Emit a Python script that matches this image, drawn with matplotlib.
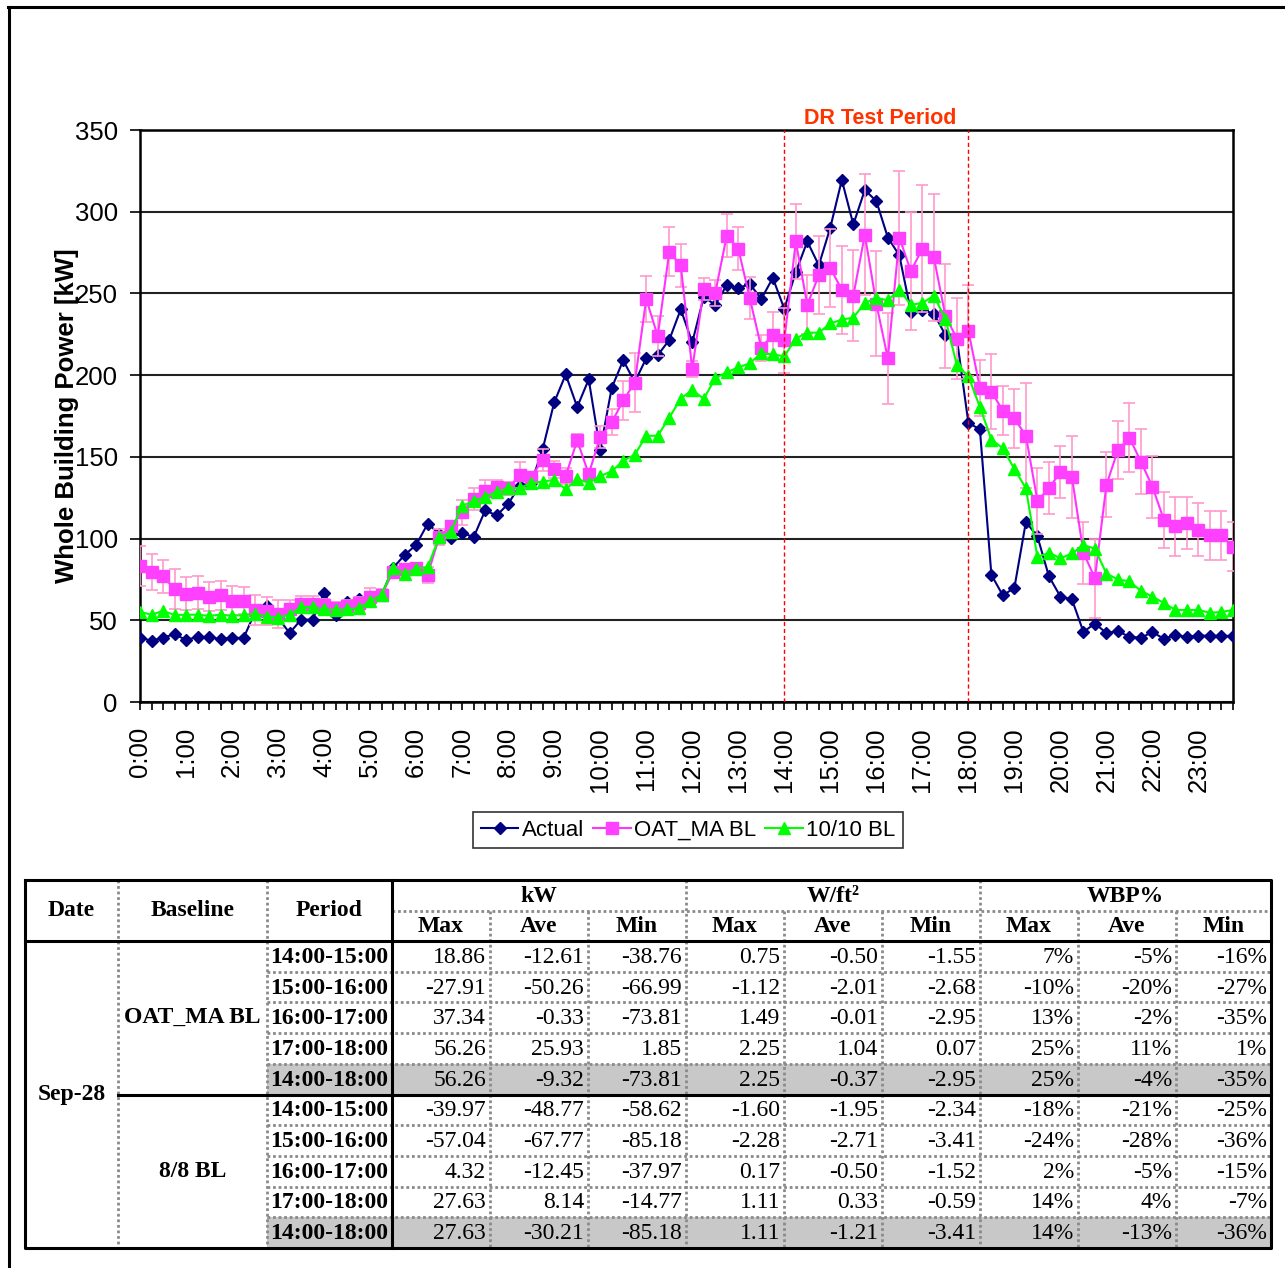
import numpy as np
import matplotlib.pyplot as plt

plt.rcParams['font.family'] = ['Liberation Sans', 'DejaVu Sans']

# whole building power, 15-minute readings from 0:00 to 23:45 [kW]
actual = [39.4, 37.5, 39.4, 41.5, 38.0, 39.8, 39.8, 38.4, 39.4, 39.1,
          55.0, 59.0, 51.6, 42.2, 50.4, 50.4, 66.8, 53.2, 61.4, 63.3,
          64.5, 65.6, 82.0, 90.0,
          96.1, 109.0, 103.1, 100.3, 103.6, 100.8, 117.2, 114.2, 121.2, 132.4,
          134.0, 154.7, 183.3, 200.4, 180.5, 197.4, 154.2, 192.2, 209.1, 195.7,
          210.3, 212.2, 221.5, 240.3,
          220.0, 247.8, 243.0, 255.1, 253.2, 255.8, 246.6, 259.5, 240.6, 263.1,
          281.8, 267.2, 290.3, 319.4, 292.2, 313.3, 306.5, 284.2, 273.3, 238.9,
          239.8, 237.7, 224.6, 222.4, 170.7,
          166.9, 77.8, 65.2, 69.9, 110.2, 101.3, 76.9, 64.5, 62.8, 42.9,
          48.0, 42.2, 43.4, 39.8, 39.4, 42.7, 38.7, 41.0, 39.8, 40.6,
          40.6, 40.3, 40.6]

oat_ma = [83.2, 79.7, 76.9, 69.2, 66.3, 66.8, 64.5, 65.2, 62.1, 62.1,
          56.3, 55.6, 53.9, 56.7, 59.8, 59.8, 59.1, 57.4, 58.6, 60.5,
          64.5, 65.6, 79.7, 81.6,
          82.0, 77.8, 100.8, 107.4, 116.0, 124.2, 128.9, 131.7, 130.8, 138.8,
          137.8, 148.1, 142.3, 138.3, 160.1, 139.5, 162.2, 171.1, 184.5, 195.3,
          246.6, 223.9, 275.4, 267.2,
          203.7, 252.7, 250.3, 285.4, 277.4, 247.1, 216.8, 224.8, 221.2, 281.8,
          243.0, 261.2, 265.5, 252.2, 248.6, 285.9, 243.7, 210.2, 284.2, 263.6,
          277.4, 272.1, 236.2, 222.4, 227.2,
          192.2, 189.9, 178.2, 173.5, 162.9, 123.1, 130.8, 140.6, 137.6, 91.4,
          75.7, 132.9, 154.2, 161.7, 147.0, 131.7, 111.3, 107.4, 109.7, 105.5,
          102.0, 102.0, 94.9]

oat_ma_err = [12, 11, 10, 12, 10, 10, 9, 9, 9, 8.5,
              9, 8.5, 8.5, 6, 5, 5, 4, 4, 4, 4,
              5, 3.5, 2, 2,
              2, 5, 5, 3, 7.4, 6.5, 6.7, 4, 4, 8,
              3, 7, 5, 5, 4, 3, 6.5, 8, 12, 18,
              14, 12, 15, 13,
              5, 7, 8, 13, 13, 13, 8, 14, 20, 23,
              18, 24, 24, 27, 28, 37, 32, 28, 41, 36,
              39, 39, 32, 25, 28,
              17, 23, 15, 18, 32, 20, 16, 16, 25, 19,
              24, 20, 18, 21, 20, 19, 17, 18, 16, 16,
              15, 15, 15]

bl_1010 = [55.1, 53.4, 55.8, 53.2, 53.4, 53.4, 52.7, 53.4, 52.7, 53.2,
           53.9, 52.3, 51.6, 53.4, 58.1, 58.1, 56.7, 56.3, 56.7, 57.4,
           61.6, 65.6, 82.0, 78.5,
           81.6, 82.5, 100.8, 103.8, 120.0, 123.0, 125.4, 128.5, 130.8, 130.8,
           134.1, 134.8, 136.0, 130.1, 136.4, 134.1, 138.3, 141.1, 147.7, 151.2,
           162.9, 162.9, 173.9, 185.7,
           190.9, 185.5, 198.1, 201.8, 204.7, 207.3, 213.4, 212.7, 211.5, 222.4,
           226.0, 226.0, 231.6, 234.0, 235.2, 244.2, 247.1, 245.9, 252.2, 243.0,
           244.2, 248.6, 234.5, 206.1, 199.3,
           180.5, 160.6, 155.2, 142.5, 130.8, 88.6, 91.4, 87.9, 90.9, 96.1,
           93.8, 78.5, 75.0, 73.8, 68.0, 64.5, 60.5, 56.3, 56.3, 56.3,
           54.6, 55.1, 56.3]

hour_labels = ['%d:00' % h for h in range(24)]
dr_start, dr_end = 14, 18  # hours

# summary table
periods = ['14:00-15:00', '15:00-16:00', '16:00-17:00', '17:00-18:00', '14:00-18:00']
groups = ['kW', 'W/ft\u00b2', 'WBP%']
stats = ['Max', 'Ave', 'Min']
oat_ma_rows = [
    ['18.86', '-12.61', '-38.76', '0.75', '-0.50', '-1.55', '7%', '-5%', '-16%'],
    ['-27.91', '-50.26', '-66.99', '-1.12', '-2.01', '-2.68', '-10%', '-20%', '-27%'],
    ['37.34', '-0.33', '-73.81', '1.49', '-0.01', '-2.95', '13%', '-2%', '-35%'],
    ['56.26', '25.93', '1.85', '2.25', '1.04', '0.07', '25%', '11%', '1%'],
    ['56.26', '-9.32', '-73.81', '2.25', '-0.37', '-2.95', '25%', '-4%', '-35%'],
]
bl88_rows = [
    ['-39.97', '-48.77', '-58.62', '-1.60', '-1.95', '-2.34', '-18%', '-21%', '-25%'],
    ['-57.04', '-67.77', '-85.18', '-2.28', '-2.71', '-3.41', '-24%', '-28%', '-36%'],
    ['4.32', '-12.45', '-37.97', '0.17', '-0.50', '-1.52', '2%', '-5%', '-15%'],
    ['27.63', '8.14', '-14.77', '1.11', '0.33', '-0.59', '14%', '4%', '-7%'],
    ['27.63', '-30.21', '-85.18', '1.11', '-1.21', '-3.41', '14%', '-13%', '-36%'],
]

W, H = 1285, 1268
fig = plt.figure(figsize=(W / 100, H / 100), dpi=100)

# page layer in pixel units (frame + table)
page = fig.add_axes([0, 0, 1, 1])
page.set_xlim(0, W)
page.set_ylim(H, 0)
page.axis('off')
page.plot([8, W], [7, 7], color='black', lw=2.2)
page.plot([8.5, 8.5], [7, H], color='black', lw=2.2)

# ---- chart ----
L, R, T, B = 140, 1233, 130, 702
ax = fig.add_axes([L / W, 1 - B / H, (R - L) / W, (B - T) / H])
x = np.arange(len(actual))

ax.plot(x, actual, color='#000080', marker='D', ms=6, lw=1.5, label='Actual', zorder=3)
ax.errorbar(x, oat_ma, yerr=oat_ma_err, fmt='none', ecolor='#FF99CC',
            elinewidth=1.2, capsize=4, capthick=1.2, zorder=3.5)
ax.plot(x, oat_ma, color='#FF33FF', marker='s', ms=8, mfc='#FF40FF', mec='#FF40FF',
        lw=1.5, label='OAT_MA BL', zorder=4)
ax.plot(x, bl_1010, color='#00FF00', marker='^', ms=8.5, lw=1.5, label='10/10 BL', zorder=5)

for h in (dr_start, dr_end):
    ax.axvline(h * 4, color='#FF0000', ls=(0, (3, 2)), lw=1, zorder=6)
ax.annotate('DR Test Period', xy=((dr_start + dr_end) * 2, 1), xycoords=('data', 'axes fraction'),
            xytext=(3, 1), textcoords='offset points', ha='center', va='bottom',
            color='#FF3300', fontsize=15.5, fontweight='bold')

ax.set_xlim(0, len(actual) - 1)
ax.set_ylim(0, 350)
ax.set_yticks(range(0, 351, 50))
ax.yaxis.grid(True, color='#222222', lw=1.5)
ax.set_axisbelow(True)
ax.set_xticks(x)
ax.set_xticklabels([hour_labels[i // 4] if i % 4 == 0 else '' for i in x], rotation=90)
ax.tick_params(axis='x', length=6, width=1.2, pad=12, labelsize=18.5, direction='out')
ax.tick_params(axis='y', length=7, width=1.2, pad=9, labelsize=18.5)
for s in ax.spines.values():
    s.set_linewidth(1.8)
    s.set_color('black')
ax.set_ylabel('Whole Building Power [kW]', fontsize=18.5, fontweight='bold', labelpad=-3)

leg = fig.legend(loc='center', bbox_to_anchor=(688 / W, 1 - 830 / H), ncol=3, fontsize=16,
                 frameon=True, fancybox=False, edgecolor='black', borderpad=0.35,
                 handlelength=1.7, handletextpad=0.15, columnspacing=0.4, borderaxespad=0)
leg.get_frame().set_linewidth(1.2)

# ---- table ----
cols = [25, 118, 267, 392, 490, 588, 686, 784, 882, 980, 1078, 1176, 1271]
top, hmid, hbot, bot = 880, 910.5, 941, 1248
row_h = (bot - hbot) / 10
rows = [hbot + k * row_h for k in range(11)]
serif = ['Liberation Serif', 'DejaVu Serif']
fs = 17
dot = dict(color='#8a8a8a', lw=2, ls=(0, (1, 1)), zorder=2)
thick = dict(color='black', lw=2.2, zorder=3)

for k in (4, 9):
    page.fill_between([cols[2], cols[-1]], rows[k], rows[k + 1], color='#C8C8C8', lw=0, zorder=1)

# inner dotted lines
for c in cols[1:3]:
    page.plot([c, c], [top, bot], **dot)
for c in cols[4:-1]:
    y0 = top if c in (cols[6], cols[9]) else hmid
    page.plot([c, c], [y0, bot], **dot)
page.plot([cols[3], cols[-1]], [hmid, hmid], **dot)
for k in range(1, 10):
    if k != 5:
        page.plot([cols[2], cols[-1]], [rows[k], rows[k]], **dot)

# heavy lines
page.plot([cols[0], cols[-1], cols[-1], cols[0], cols[0]], [top, top, bot, bot, top], **thick)
page.plot([cols[0], cols[-1]], [hbot, hbot], **thick)
page.plot([cols[3], cols[3]], [top, bot], **thick)
page.plot([cols[1], cols[-1]], [rows[5], rows[5]], **thick)

hdr = dict(family=serif, fontsize=fs, fontweight='bold', ha='center', va='center')
for c0, c1, name in zip(cols[:3], cols[1:4], ['Date', 'Baseline', 'Period']):
    page.text((c0 + c1) / 2, (top + hbot) / 2, name, **hdr)
for g, name in enumerate(groups):
    page.text((cols[3 + 3 * g] + cols[6 + 3 * g]) / 2, (top + hmid) / 2 + 1, name, **hdr)
    for s, st in enumerate(stats):
        c0, c1 = cols[3 + 3 * g + s], cols[4 + 3 * g + s]
        page.text((c0 + c1) / 2, (hmid + hbot) / 2 + 1, st, **hdr)

page.text((cols[0] + cols[1]) / 2, rows[5], 'Sep-28', **hdr)
page.text((cols[1] + cols[2]) / 2, (rows[0] + rows[5]) / 2, 'OAT_MA BL', **hdr)
page.text((cols[1] + cols[2]) / 2, (rows[5] + rows[10]) / 2, '8/8 BL', **hdr)

for k, vals in enumerate(oat_ma_rows + bl88_rows):
    yc = (rows[k] + rows[k + 1]) / 2 + 1
    page.text((cols[2] + cols[3]) / 2, yc, periods[k % 5], **hdr)
    for j, v in enumerate(vals):
        page.text(cols[4 + j] - 4, yc, v, family=serif, fontsize=fs, ha='right', va='center')

fig.savefig('out.png', dpi=100)
